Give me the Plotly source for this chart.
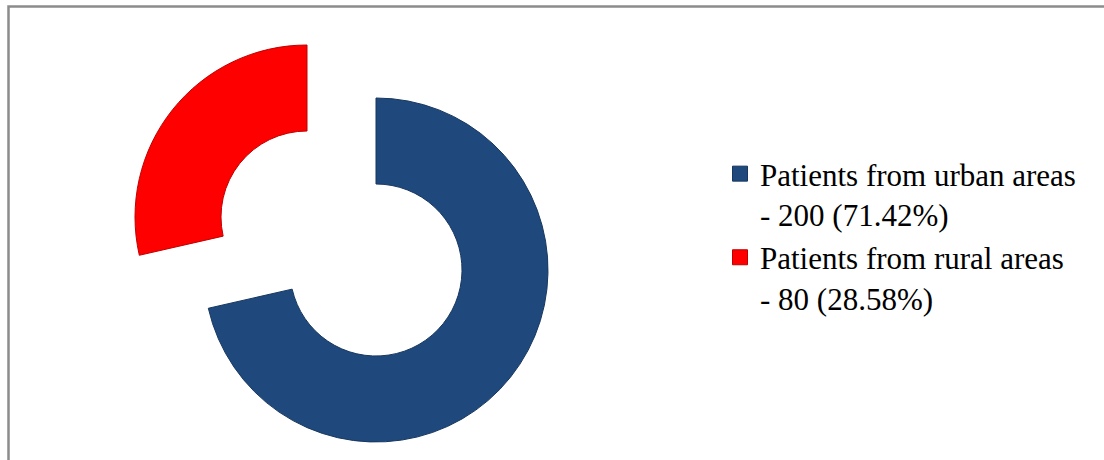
import plotly.graph_objects as go

# Patient origin data
categories = ["Patients from urban areas", "Patients from rural areas"]
counts = [200, 80]
percent_labels = ["71.42%", "28.58%"]
colors = ["#1F497D", "#FF0000"]
edge_colors = ["#17375E", "#C00000"]

W, H = 1104, 460

legend_names = [
    f"{cat}<br>- {n} ({p})" for cat, n, p in zip(categories, counts, percent_labels)
]


def px_domain(cx, cy, r):
    """Square pie domain (paper coords) for a centre/radius given in pixels."""
    return dict(
        x=[(cx - r) / W, (cx + r) / W],
        y=[1 - (cy + r) / H, 1 - (cy - r) / H],
    )


R = 172
# main ring (urban slice) and the exploded rural slice, moved out along its mid-angle
main_centre = (376, 270)
pulled_centre = (307, 217)

fig = go.Figure()

# urban slice in place; rural slot left empty
fig.add_trace(go.Pie(
    labels=categories,
    values=counts,
    hole=0.5,
    sort=False,
    direction="clockwise",
    rotation=0,
    textinfo="none",
    marker=dict(colors=[colors[0], "rgba(0,0,0,0)"],
                line=dict(color=[edge_colors[0], "rgba(0,0,0,0)"], width=1)),
    domain=px_domain(*main_centre, R),
    showlegend=False,
    hoverinfo="label+value+percent",
))

# rural slice, exploded
fig.add_trace(go.Pie(
    labels=categories,
    values=counts,
    hole=0.5,
    sort=False,
    direction="clockwise",
    rotation=0,
    textinfo="none",
    marker=dict(colors=["rgba(0,0,0,0)", colors[1]],
                line=dict(color=["rgba(0,0,0,0)", edge_colors[1]], width=1)),
    domain=px_domain(*pulled_centre, R),
    showlegend=False,
    hoverinfo="label+value+percent",
))

# legend entries
for name, c, ec in zip(legend_names, colors, edge_colors):
    fig.add_trace(go.Scatter(
        x=[None], y=[None],
        mode="markers",
        name=name,
        marker=dict(symbol="square", size=15, color=c,
                    line=dict(color=ec, width=1)),
        showlegend=True,
    ))

fig.update_layout(
    width=W,
    height=H,
    margin=dict(l=0, r=0, t=0, b=0),
    paper_bgcolor="white",
    plot_bgcolor="white",
    xaxis=dict(visible=False),
    yaxis=dict(visible=False),
    legend=dict(
        x=720 / W,
        y=1 - 147 / H,
        xanchor="left",
        yanchor="top",
        valign="top",
        tracegroupgap=0,
        font=dict(family="Liberation Serif, Times New Roman, serif", size=31, color="black"),
        bgcolor="rgba(0,0,0,0)",
        itemclick=False,
        itemdoubleclick=False,
    ),
    shapes=[
        dict(type="rect", xref="paper", yref="paper",
             x0=8.5 / W, x1=1.05, y0=-0.05, y1=1 - 6.5 / H,
             line=dict(color="#8C8C8C", width=2.5),
             fillcolor="rgba(0,0,0,0)", layer="above"),
    ],
)

fig.write_html("out.html")
